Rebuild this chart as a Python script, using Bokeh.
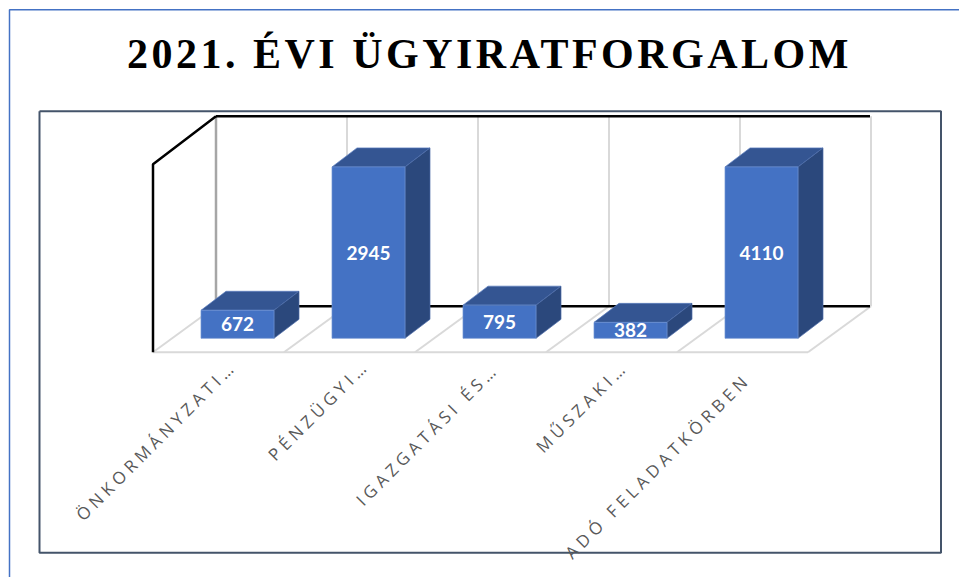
from bokeh.plotting import figure
from bokeh.embed import file_html
from bokeh.resources import INLINE
from bokeh.models import Range1d, CustomJS
from bokeh.core.properties import value
from bokeh.io import curdoc

TITLE = "2021. ÉVI ÜGYIRATFORGALOM"
categories = ["ÖNKORMÁNYZATI…", "PÉNZÜGYI…", "IGAZGATÁSI ÉS…", "MŰSZAKI…", "ADÓ FELADATKÖRBEN"]
labels = [672, 2945, 795, 382, 4110]
drawn_heights = [672, 4110, 795, 382, 4110]

W, H = 959, 577
STEP = 131.0
PX_PER_UNIT = 0.0417
def X(px): return (px - 237.5) / STEP
def Y(py): return (338 - py) / PX_PER_UNIT
DX = 25 / STEP
DY = 19 / PX_PER_UNIT
BW = 73 / STEP

p = figure(width=W, height=H, output_backend="svg", toolbar_location=None,
           x_range=Range1d(X(0.5), X(W + 0.5)), y_range=Range1d(Y(H + 0.2), Y(0.2)),
           min_border=0, outline_line_color=None)
p.axis.visible = False
p.grid.visible = False

# outer and inner frames
p.line([X(9.5), X(9.5), X(960)], [Y(578), Y(9.5), Y(9.5)], line_color="#4472C4", line_width=1.5)
p.line([X(39.5), X(941), X(941), X(39.5), X(39.5)],
       [Y(111), Y(111), Y(552.5), Y(552.5), Y(111)], line_color="#44546A", line_width=2)

# walls and floor, one bay per category
n = len(categories)
front_x = [X(153) + i for i in range(n + 1)]
for fx in front_x:
    bx = fx + X(216) - X(153)
    p.line([bx, bx], [Y(306), Y(116)], line_color="#D9D9D9", line_width=2)
    p.line([fx, bx], [Y(352), Y(306)], line_color="#D9D9D9", line_width=2)
p.line([X(153), front_x[-1]], [Y(352), Y(352)], line_color="#D9D9D9", line_width=2)
p.line([X(216), X(216)], [Y(306), Y(116)], line_color="#A6A6A6", line_width=2.5)
p.line([X(216), X(870)], [Y(116), Y(116)], line_color="#000000", line_width=2.5)
p.line([X(216), X(870)], [Y(306), Y(306)], line_color="#000000", line_width=2.5)
p.line([X(153), X(153), X(216)], [Y(352), Y(164), Y(116)], line_color="#000000", line_width=2.5)

# 3-D bars
for i, (h, lab) in enumerate(zip(drawn_heights, labels)):
    l = i - BW / 2
    r = i + BW / 2
    p.patch([l, r, r + DX, l + DX], [h, h, h + DY, h + DY],
            fill_color="#345592", line_color="#5A7CBE", line_width=0.7)
    p.patch([r, r + DX, r + DX, r], [0, DY, h + DY, h],
            fill_color="#2B487C", line_color="#4A6AA8", line_width=0.7)
    p.quad(left=[l], right=[r], bottom=[0], top=[h],
           fill_color="#4472C4", line_color="#6F92D3", line_width=0.7)
    p.text([i], [h / 2], text=[str(lab)], text_color="#FFFFFF",
           text_font=value("Lato"), text_font_style="bold", text_font_size="19px",
           text_align="center", text_baseline="middle")

# category labels, rotated
p.text([X(v) for v in (79, 271, 359, 539, 568)],
       [Y(v) for v in (517, 457, 502, 449, 555)],
       text=categories, angle=0.7854, text_color="#595959",
       text_font=value("Open Sans"), text_font_size="17px",
       text_align="left", text_baseline="alphabetic")

p.text([X(127)], [Y(54)], text=[TITLE], text_color="#000000",
       text_font=value("Liberation Serif"), text_font_style="bold", text_font_size="42px",
       text_align="left", text_baseline="alphabetic")

spacing = CustomJS(code="""
function walk(root) {
  root.querySelectorAll('*').forEach(e => {
    if (e.tagName === 'text') {
      const fam = e.getAttribute('font-family') || e.style.fontFamily || '';
      if (fam.includes('Liberation Serif')) e.setAttribute('letter-spacing', '3.5px');
      else if (fam.includes('Open Sans')) e.setAttribute('letter-spacing', '4.4px');
    }
    if (e.shadowRoot) walk(e.shadowRoot);
  });
}
[0, 100, 400, 1000].forEach(t => setTimeout(() => walk(document), t));
""")
curdoc().add_root(p)
curdoc().js_on_event("document_ready", spacing)

open("out.html", "w").write(file_html(p, INLINE))
